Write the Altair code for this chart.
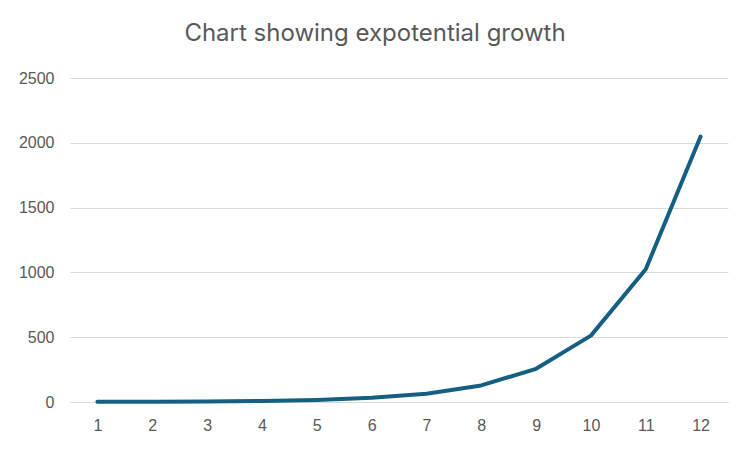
import altair as alt
import pandas as pd

xs = [1, 2, 3, 4, 5, 6, 7, 8, 9, 10, 11, 12]
ys = [1, 2, 4, 8, 16, 32, 64, 128, 256, 512, 1024, 2048]
df = pd.DataFrame({"x": xs, "y": ys})

chart = alt.Chart(df).mark_line(color="#156082", strokeWidth=4, strokeCap="round", strokeJoin="round").encode(
    x=alt.X("x:O", scale=alt.Scale(type="point", padding=0.5),
            axis=alt.Axis(title=None, labelAngle=0, ticks=False, grid=False, domain=True,
                          domainColor="#d9d9d9", domainWidth=1,
                          labelFont="Liberation Sans", labelFontSize=16, labelColor="#595959",
                          labelPadding=15)),
    y=alt.Y("y:Q", scale=alt.Scale(domain=[0, 2500]),
            axis=alt.Axis(title=None, values=[0, 500, 1000, 1500, 2000, 2500], ticks=False,
                          format="d",
                          domain=False, gridColor="#d9d9d9", gridWidth=1,
                          labelFont="Liberation Sans", labelFontSize=16, labelColor="#595959",
                          labelPadding=16)),
).properties(
    width=658, height=324,
    background="white",
    autosize=alt.AutoSizeParams(type="none"),
    padding={"left": 62, "top": 70, "right": 15, "bottom": 42},
    title=alt.TitleParams("Chart showing expotential growth", font="Inter", fontSize=24,
                          fontWeight="normal", color="#595959", anchor="middle",
                          dx=-24, offset=24),
).configure_view(strokeWidth=0)

chart.save("out.html", embed_options={"renderer": "svg", "actions": False})
